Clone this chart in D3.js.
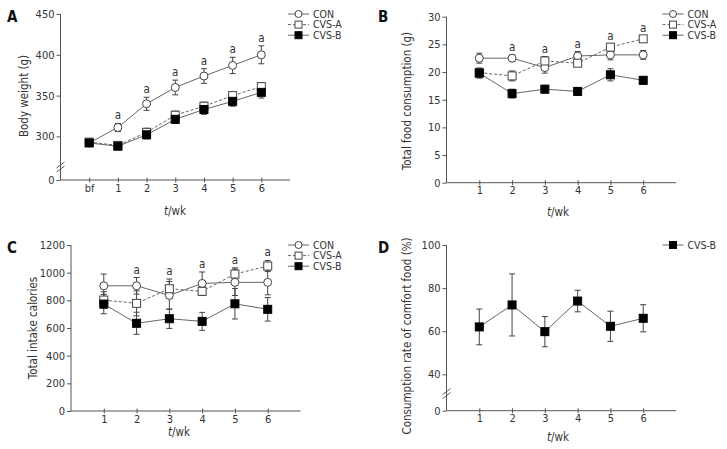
<!DOCTYPE html>
<html><head><meta charset="utf-8">
<script src="https://cdn.jsdelivr.net/npm/d3@7"></script>
<style>
body{margin:0;background:#fff;}
svg text{font-family:"DejaVu Sans Condensed","DejaVu Sans",sans-serif;fill:#333;}
</style></head>
<body>
<svg id="c" width="727" height="449"></svg>
<script>
// ---------- data ----------
const weeksA = ["bf","1","2","3","4","5","6"];
const weeks = ["1","2","3","4","5","6"];
const seriesNames = ["CON","CVS-A","CVS-B"];

const bwCON  = [292, 311, 340, 360, 374, 387, 400];
const bwCVSA = [293, 289, 305, 326, 337, 350, 361];
const bwCVSB = [292, 288, 302, 321, 333, 343, 354];
const bwErrCON  = [4, 5, 8, 9, 9, 10, 11];
const bwErrCVSA = [4, 4, 5, 5, 5, 4, 5];
const bwErrCVSB = [4, 4, 5, 5, 6, 6, 7];
const bwSig = [false, true, true, true, true, true, true];
const bwTicks = [0, 300, 350, 400, 450];

const fcCON  = [22.5, 22.5, 20.8, 22.9, 23.1, 23.1];
const fcCVSA = [19.9, 19.3, 22.0, 21.6, 24.5, 26.0];
const fcCVSB = [19.8, 16.1, 16.9, 16.5, 19.5, 18.5];
const fcErrCON  = [0.9, 0.6, 1.0, 0.8, 0.9, 0.8];
const fcErrCVSA = [0.8, 0.9, 0.8, 0.6, 0.6, 0.5];
const fcErrCVSB = [0.9, 0.8, 0.7, 0.7, 1.1, 0.7];
const fcSig = [false, true, true, true, true, true];
const fcTicks = [0, 5, 10, 15, 20, 25, 30];

const calCON  = [905, 905, 836, 922, 930, 930];
const calCVSA = [802, 778, 884, 865, 990, 1048];
const calCVSB = [773, 634, 667, 648, 775, 735];
const calErrCON  = [85, 60, 100, 83, 95, 90];
const calErrCVSA = [60, 90, 70, 30, 45, 40];
const calErrCVSB = [70, 80, 70, 65, 110, 85];
const calSig = [false, true, true, true, true, true];
const calTicks = [0, 200, 400, 600, 800, 1000, 1200];

const cfCVSB = [62, 72.2, 59.8, 74, 62.3, 66];
const cfErrCVSB = [8.3, 14.4, 7, 5, 7, 6.3];
const cfTicks = [0, 40, 60, 80, 100];

// ---------- drawing ----------
const svg = d3.select("#c");
const AX = "#555", LN = "#666";

function panel(o){
  const g = svg.append("g");
  const x = d3.scaleLinear().domain(o.xdom).range(o.xr);
  const y = d3.scaleLinear().domain(o.ydom).range(o.yr);
  // axes
  const yAxis = d3.axisLeft(y).tickValues(o.yticks).tickSize(4).tickPadding(2).tickFormat(d3.format("d"));
  const ga = g.append("g").attr("transform",`translate(${o.xr[0]},0)`).call(yAxis);
  ga.select(".domain").remove();
  ga.append("line").attr("x1",0).attr("x2",0).attr("y1",y(o.yticks[o.yticks.length-1])).attr("y2",y(o.ydom[0])).attr("stroke",AX);
  ga.selectAll(".tick line").attr("stroke",AX);
  ga.selectAll(".tick text").attr("font-size",11).style("fill","#333");
  const xAxis = d3.axisBottom(x).tickValues(o.xticks.map((d,i)=>i+o.xoff)).tickFormat((d,i)=>o.xticks[i]).tickSize(0).tickPadding(4);
  const gx = g.append("g").attr("transform",`translate(0,${y(o.ydom[0])})`).call(xAxis);
  gx.select(".domain").remove();
  gx.append("line").attr("x1",o.xr[0]).attr("x2",o.xr[1]).attr("stroke",AX);
  gx.selectAll(".tick").append("line").attr("y1",-2.5).attr("y2",2.5).attr("stroke",AX);
  gx.selectAll(".tick text").attr("font-size",11).style("fill","#333");
  // break marks
  if(o.brk!==undefined){
    const by = y(o.brk);
    [0,4].forEach(dy=>{
      g.append("line").attr("x1",o.xr[0]-4).attr("x2",o.xr[0]+4).attr("y1",by+dy+3).attr("y2",by+dy-3).attr("stroke",AX);
    });
  }
  // labels
  g.append("text").attr("transform",`translate(${o.ylx},${o.yly}) rotate(-90)`).attr("text-anchor","middle").attr("font-size",11.5).text(o.ylabel);
  const xl = g.append("text").attr("x",o.xlx).attr("y",o.xly).attr("text-anchor","middle").attr("font-size",11.5);
  xl.append("tspan").attr("font-style","italic").text("t");
  xl.append("tspan").text("/wk");
  g.append("text").attr("x",o.lx).attr("y",o.ly).attr("font-size",15).attr("font-weight","bold").style("fill","#111").text(o.letter);

  // series
  const dash = {"CON":null,"CVS-A":"3,2","CVS-B":null};
  o.series.forEach(s=>{
    const pts = s.v.map((v,i)=>({x:x(i+o.xoff), y:y(v), t:y(v+s.e[i]), b:y(v-s.e[i])}));
    g.append("path").attr("d",d3.line().x(d=>d.x).y(d=>d.y)(pts)).attr("fill","none").attr("stroke",LN).attr("stroke-width",1).attr("stroke-dasharray",dash[s.name]);
    pts.forEach(p=>{
      g.append("line").attr("x1",p.x).attr("x2",p.x).attr("y1",p.t).attr("y2",p.b).attr("stroke","#444");
      [p.t,p.b].forEach(yy=>g.append("line").attr("x1",p.x-3).attr("x2",p.x+3).attr("y1",yy).attr("y2",yy).attr("stroke","#444"));
    });
  });
  o.series.forEach(s=>{
    s.v.forEach((v,i)=>marker(g, s.name, x(i+o.xoff), y(v), 8));
  });
  // significance
  if(o.sig){
    o.sig.forEach((f,i)=>{
      if(!f) return;
      const top = d3.min(o.series, s=>y(s.v[i]+s.e[i]));
      g.append("text").attr("x",x(i+o.xoff)).attr("y",top-4).attr("text-anchor","middle").attr("font-size",11.5).text("a");
    });
  }
  // legend
  o.series.forEach((s,i)=>{
    const ly = o.legy + i*10.6;
    g.append("line").attr("x1",o.legx).attr("x2",o.legx+21).attr("y1",ly).attr("y2",ly).attr("stroke",LN).attr("stroke-dasharray",dash[s.name]);
    marker(g, s.name, o.legx+10.5, ly, 7);
    g.append("text").attr("x",o.legx+25).attr("y",ly+3.8).attr("font-size",10.5).text(s.name);
  });
}

function marker(g, name, cx, cy, sz){
  const h = sz/2;
  if(name==="CON"){
    g.append("circle").attr("cx",cx).attr("cy",cy).attr("r",h).attr("fill","#fff").attr("stroke","#444");
  } else if(name==="CVS-A"){
    g.append("rect").attr("x",cx-h).attr("y",cy-h).attr("width",sz).attr("height",sz).attr("fill","#fff").attr("stroke","#444");
  } else {
    g.append("rect").attr("x",cx-h).attr("y",cy-h).attr("width",sz).attr("height",sz).attr("fill","#000").attr("stroke","#000");
  }
}

panel({letter:"A", lx:7, ly:22,
  xdom:[-1,7], xr:[60.5,290], xoff:0, xticks:weeksA,
  ydom:[0,265,450], yr:[180,165,14], yticks:bwTicks, brk:265,
  ylabel:"Body weight (g)", ylx:28, yly:96, xlx:175, xly:215,
  series:[{name:"CON",v:bwCON,e:bwErrCON},{name:"CVS-A",v:bwCVSA,e:bwErrCVSA},{name:"CVS-B",v:bwCVSB,e:bwErrCVSB}],
  sig:bwSig, legx:288, legy:14});

panel({letter:"B", lx:378, ly:22,
  xdom:[0,7], xr:[446.5,676], xoff:1, xticks:weeks,
  ydom:[0,30], yr:[182.7,16.7], yticks:fcTicks,
  ylabel:"Total food consumption (g)", ylx:411, yly:101, xlx:558, xly:216,
  series:[{name:"CON",v:fcCON,e:fcErrCON},{name:"CVS-A",v:fcCVSA,e:fcErrCVSA},{name:"CVS-B",v:fcCVSB,e:fcErrCVSB}],
  sig:fcSig, legx:662.5, legy:14});

panel({letter:"C", lx:7, ly:253,
  xdom:[0,7], xr:[71,300.5], xoff:1, xticks:weeks,
  ydom:[0,1200], yr:[411,245], yticks:calTicks,
  ylabel:"Total intake calories", ylx:37, yly:328, xlx:179, xly:436,
  series:[{name:"CON",v:calCON,e:calErrCON},{name:"CVS-A",v:calCVSA,e:calErrCVSA},{name:"CVS-B",v:calCVSB,e:calErrCVSB}],
  sig:calSig, legx:288, legy:245});

panel({letter:"D", lx:378, ly:253,
  xdom:[0,7], xr:[446.5,676], xoff:1, xticks:weeks,
  ydom:[0,30,100], yr:[410.7,395.9,245], yticks:cfTicks, brk:32,
  ylabel:"Consumption rate of comfort food (%)", ylx:411, yly:336, xlx:558, xly:441,
  series:[{name:"CVS-B",v:cfCVSB,e:cfErrCVSB}],
  sig:null, legx:662.5, legy:245});
</script>
</body></html>
